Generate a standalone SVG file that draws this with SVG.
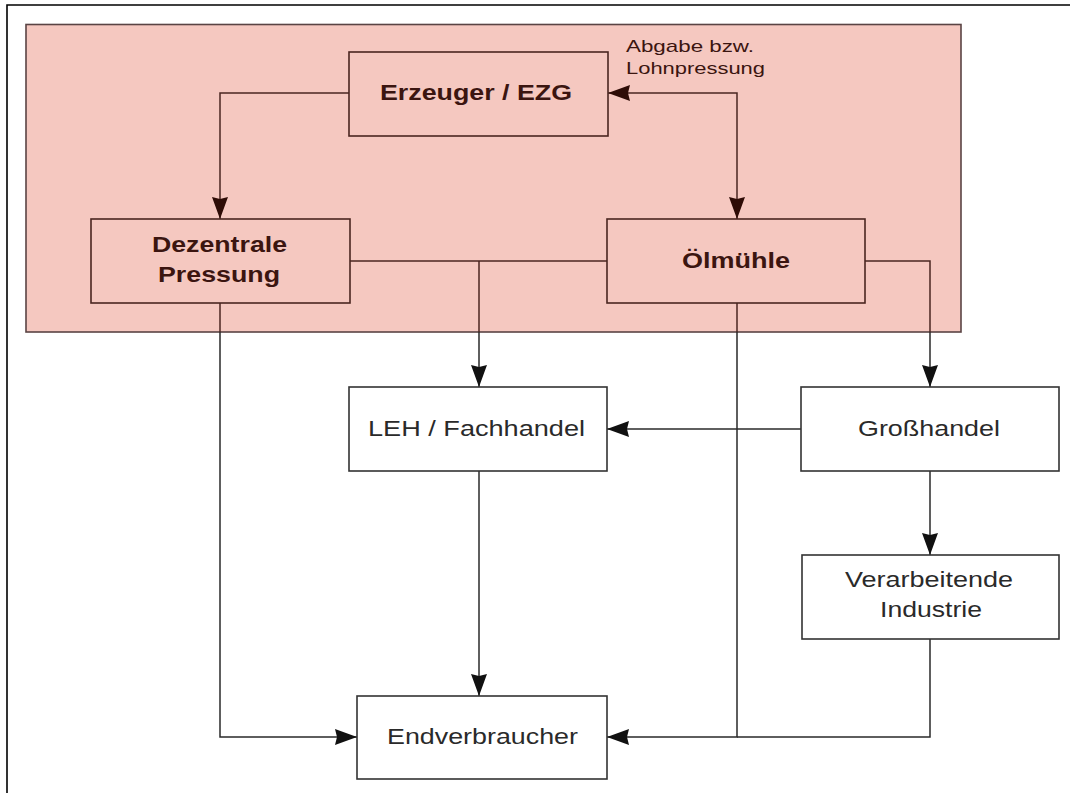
<svg xmlns="http://www.w3.org/2000/svg" width="1070" height="793" viewBox="0 0 1070 793">
<defs>
<style>
.frame{fill:none;stroke:#000;stroke-width:1.6}
.zone{fill:#f5c8c0;stroke:#5a4444;stroke-width:1.6}
.bin{fill:none;stroke:#4a2620;stroke-width:1.6}
.bout{fill:#fff;stroke:#333;stroke-width:1.6}
.cin{fill:none;stroke:#4a2620;stroke-width:1.5}
.cout{fill:none;stroke:#2a2a2a;stroke-width:1.5}
.tb{font-family:"Liberation Sans",Arial,sans-serif;font-weight:bold;font-size:22px;fill:#3b1510;text-anchor:middle}
.tr{font-family:"Liberation Sans",Arial,sans-serif;font-size:22px;fill:#2a2a2a;text-anchor:middle}
.tl{font-family:"Liberation Sans",Arial,sans-serif;font-size:17px;fill:#3b1510}
</style>
<marker id="ain" viewBox="0 0 22 16" refX="22" refY="8" markerWidth="22" markerHeight="16" markerUnits="userSpaceOnUse" orient="auto-start-reverse">
<path d="M0,0 L22,8 L0,16 L2,8 Z" fill="#2e0c06"/>
</marker>
<marker id="aout" viewBox="0 0 22 16" refX="22" refY="8" markerWidth="22" markerHeight="16" markerUnits="userSpaceOnUse" orient="auto-start-reverse">
<path d="M0,0 L22,8 L0,16 L2,8 Z" fill="#111"/>
</marker>
</defs>
<rect width="1070" height="793" fill="#fff"/>
<path class="frame" d="M7,793 V5 H1070"/>
<rect id="zone" class="zone" x="26" y="24.5" width="935" height="307.5"/>

<g id="connectors">
<path class="cin" d="M349,93 H220 V219" marker-end="url(#ain)"/>
<path class="cin" d="M608,93 H737 V219" marker-start="url(#ain)" marker-end="url(#ain)"/>
<path class="cin" d="M350,261 H607"/>
<path class="cin" d="M479,261 V332"/>
<path class="cout" d="M479,332 V387" marker-end="url(#aout)"/>
<path class="cin" d="M865,261 H930 V332"/>
<path class="cout" d="M930,332 V387" marker-end="url(#aout)"/>
<path class="cin" d="M737,303 V332"/>
<path class="cout" d="M737,332 V737 H607" marker-end="url(#aout)"/>
<path class="cout" d="M930,639 V737 H737"/>
<path class="cin" d="M220,303 V332"/>
<path class="cout" d="M220,332 V737 H357" marker-end="url(#aout)"/>
<path class="cout" d="M801,429 H607" marker-end="url(#aout)"/>
<path class="cout" d="M930,471 V555" marker-end="url(#aout)"/>
<path class="cout" d="M479,471 V696" marker-end="url(#aout)"/>
</g>

<g id="label-abgabe">
<text class="tl" x="626" y="52" textLength="128" lengthAdjust="spacingAndGlyphs">Abgabe bzw.</text>
<text class="tl" x="626" y="74" textLength="139" lengthAdjust="spacingAndGlyphs">Lohnpressung</text>
</g>

<g id="erzeuger">
<rect class="bin" x="349" y="52" width="259" height="84"/>
<text class="tb" x="476" y="100" textLength="192" lengthAdjust="spacingAndGlyphs">Erzeuger / EZG</text>
</g>
<g id="dezentrale">
<rect class="bin" x="91" y="219" width="259" height="84"/>
<text class="tb" x="219.5" y="252" textLength="135" lengthAdjust="spacingAndGlyphs">Dezentrale</text>
<text class="tb" x="219" y="282" textLength="122" lengthAdjust="spacingAndGlyphs">Pressung</text>
</g>
<g id="oelmuehle">
<rect class="bin" x="607" y="219" width="258" height="84"/>
<text class="tb" x="736" y="268" textLength="108" lengthAdjust="spacingAndGlyphs">Ölmühle</text>
</g>
<g id="leh">
<rect class="bout" x="349" y="387" width="258" height="84"/>
<text class="tr" x="476.5" y="436" textLength="217" lengthAdjust="spacingAndGlyphs">LEH / Fachhandel</text>
</g>
<g id="grosshandel">
<rect class="bout" x="801" y="387" width="258" height="84"/>
<text class="tr" x="929" y="436" textLength="142" lengthAdjust="spacingAndGlyphs">Großhandel</text>
</g>
<g id="verarbeitende">
<rect class="bout" x="802" y="555" width="257" height="84"/>
<text class="tr" x="929" y="587" textLength="168" lengthAdjust="spacingAndGlyphs">Verarbeitende</text>
<text class="tr" x="931" y="617" textLength="102" lengthAdjust="spacingAndGlyphs">Industrie</text>
</g>
<g id="endverbraucher">
<rect class="bout" x="357" y="696" width="250" height="83"/>
<text class="tr" x="482.5" y="744" textLength="191" lengthAdjust="spacingAndGlyphs">Endverbraucher</text>
</g>
</svg>
